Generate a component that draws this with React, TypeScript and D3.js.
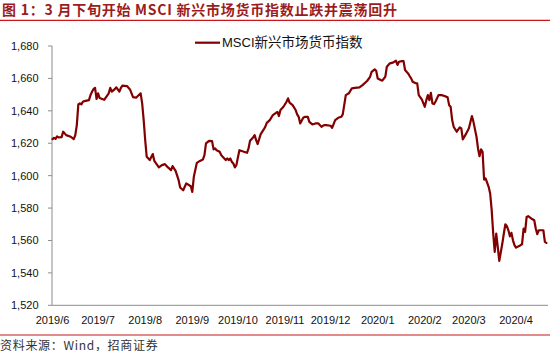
import React from "react";
import * as d3 from "d3";

const TITLE = "图 1：3 月下旬开始 MSCI 新兴市场货币指数止跌并震荡回升";
const SOURCE = "资料来源：Wind，招商证券";
const SERIES_NAME = "MSCI新兴市场货币指数";

const dates: string[] = [
  "2019-06-01","2019-06-02","2019-06-03","2019-06-04","2019-06-05","2019-06-07","2019-06-08","2019-06-09","2019-06-10","2019-06-13",
  "2019-06-15","2019-06-16","2019-06-17","2019-06-18","2019-06-19","2019-06-20","2019-06-21","2019-06-22","2019-06-25","2019-06-26",
  "2019-06-27","2019-06-28","2019-06-29","2019-06-30","2019-07-01","2019-07-02","2019-07-05","2019-07-08","2019-07-09","2019-07-10",
  "2019-07-12","2019-07-13","2019-07-15","2019-07-16","2019-07-17","2019-07-20","2019-07-22","2019-07-24","2019-07-26","2019-07-29",
  "2019-07-30","2019-07-31","2019-08-01","2019-08-02","2019-08-04","2019-08-06","2019-08-07","2019-08-10","2019-08-12","2019-08-14",
  "2019-08-16","2019-08-18","2019-08-19","2019-08-21","2019-08-23","2019-08-24","2019-08-26","2019-08-28","2019-08-31","2019-09-01",
  "2019-09-02","2019-09-04","2019-09-06","2019-09-08","2019-09-09","2019-09-10","2019-09-12","2019-09-14","2019-09-15","2019-09-16",
  "2019-09-17","2019-09-19","2019-09-20","2019-09-21","2019-09-23","2019-09-24","2019-09-25","2019-09-26","2019-09-27","2019-09-28",
  "2019-09-29","2019-09-30","2019-10-01","2019-10-02","2019-10-05","2019-10-07","2019-10-08","2019-10-09","2019-10-11","2019-10-12",
  "2019-10-13","2019-10-14","2019-10-16","2019-10-18","2019-10-19","2019-10-20","2019-10-22","2019-10-24","2019-10-27","2019-10-28",
  "2019-10-29","2019-10-31","2019-11-02","2019-11-03","2019-11-04","2019-11-06","2019-11-08","2019-11-09","2019-11-10","2019-11-11",
  "2019-11-13","2019-11-14","2019-11-16","2019-11-17","2019-11-19","2019-11-21","2019-11-23","2019-11-25","2019-11-26","2019-11-27",
  "2019-11-28","2019-12-01","2019-12-02","2019-12-04","2019-12-06","2019-12-08","2019-12-09","2019-12-11","2019-12-13","2019-12-15",
  "2019-12-17","2019-12-20","2019-12-22","2019-12-25","2019-12-27","2019-12-28","2019-12-30","2019-12-31","2020-01-01","2020-01-03",
  "2020-01-04","2020-01-06","2020-01-07","2020-01-09","2020-01-11","2020-01-13","2020-01-14","2020-01-15","2020-01-17","2020-01-18",
  "2020-01-19","2020-01-20","2020-01-21","2020-01-22","2020-01-23","2020-01-24","2020-01-26","2020-01-27","2020-01-28","2020-01-30",
  "2020-02-01","2020-02-02","2020-02-03","2020-02-04","2020-02-05","2020-02-06","2020-02-07","2020-02-08","2020-02-10","2020-02-12",
  "2020-02-14","2020-02-16","2020-02-17","2020-02-18","2020-02-19","2020-02-20","2020-02-22","2020-02-24","2020-02-25","2020-02-26",
  "2020-02-28","2020-03-01","2020-03-03","2020-03-04","2020-03-06","2020-03-07","2020-03-08","2020-03-09","2020-03-10","2020-03-11",
  "2020-03-12","2020-03-14","2020-03-15","2020-03-16","2020-03-17","2020-03-18","2020-03-19","2020-03-20","2020-03-21","2020-03-23",
  "2020-03-24","2020-03-25","2020-03-26","2020-03-27","2020-03-28","2020-03-29","2020-03-30","2020-03-31","2020-04-01","2020-04-04",
  "2020-04-05","2020-04-06","2020-04-07","2020-04-08","2020-04-09","2020-04-11","2020-04-13","2020-04-14","2020-04-15","2020-04-16",
  "2020-04-19","2020-04-20","2020-04-21"
];

const values: number[] = [
  1622.5,1623.3,1622.7,1624.2,1623.6,1623.8,1627.1,1626.1,1625.0,1624.0,
  1622.5,1625.0,1631.2,1644.0,1644.6,1644.0,1645.6,1646.0,1646.6,1649.7,
  1651.8,1653.4,1654.2,1647.3,1650.8,1647.9,1646.8,1650.8,1654.2,1651.8,
  1653.4,1654.5,1651.8,1654.1,1655.5,1655.3,1653.2,1648.5,1648.1,1650.8,
  1644.6,1634.3,1621.9,1611.6,1609.6,1613.3,1609.1,1605.1,1606.5,1607.1,
  1605.1,1603.4,1605.9,1603.0,1597.2,1592.7,1591.0,1595.2,1593.5,1590.0,
  1599.3,1607.9,1609.1,1610.0,1612.7,1619.9,1621.5,1621.3,1616.2,1616.8,
  1615.7,1614.7,1612.7,1611.6,1609.6,1610.6,1609.6,1610.6,1608.5,1607.5,
  1605.1,1606.5,1611.2,1615.7,1614.7,1614.1,1616.8,1621.5,1623.6,1625.0,
  1621.9,1619.5,1625.6,1628.5,1630.1,1632.6,1634.3,1637.4,1639.4,1636.8,
  1640.5,1642.5,1645.6,1647.7,1645.0,1643.5,1640.5,1637.8,1636.3,1632.2,
  1635.7,1636.3,1636.3,1633.2,1631.6,1632.2,1632.2,1630.1,1630.8,1631.2,
  1631.2,1630.8,1629.5,1634.3,1635.7,1636.3,1637.8,1649.7,1650.8,1653.9,
  1654.2,1654.5,1655.9,1658.4,1661.0,1664.1,1665.6,1664.7,1660.0,1659.0,
  1658.6,1661.0,1667.2,1669.3,1669.7,1670.9,1668.3,1670.3,1670.7,1670.7,
  1665.2,1664.1,1663.1,1661.5,1660.0,1657.9,1657.0,1657.0,1649.7,1647.1,
  1642.5,1646.6,1649.7,1646.6,1651.1,1644.6,1644.2,1645.6,1649.7,1649.7,
  1649.1,1648.3,1643.5,1642.5,1634.3,1630.1,1627.1,1629.8,1629.2,1622.4,
  1625.6,1629.2,1636.8,1633.2,1624.0,1616.8,1612.0,1616.2,1614.7,1597.6,
  1598.3,1593.1,1589.0,1578.7,1564.3,1552.9,1564.3,1556.0,1547.4,1558.1,
  1564.3,1570.0,1568.8,1566.3,1562.6,1564.7,1560.1,1557.1,1555.6,1557.1,
  1557.7,1567.4,1565.3,1574.5,1575.0,1573.6,1572.5,1567.4,1563.9,1566.3,
  1566.3,1559.1,1558.5
];

const yTicks: number[] = [1520, 1540, 1560, 1580, 1600, 1620, 1640, 1660, 1680];
const monthLabels: string[] = ["2019/6","2019/7","2019/8","2019/9","2019/10","2019/11","2019/12","2020/1","2020/2","2020/3","2020/4"];
const monthStarts: string[] = ["2019-06-01","2019-07-01","2019-08-01","2019-09-01","2019-10-01","2019-11-01","2019-12-01","2020-01-01","2020-02-01","2020-03-01","2020-04-01"];

const LATIN = "'Liberation Sans', Arial, 'Noto Sans CJK SC', sans-serif";
const CJK = "'Noto Sans CJK SC', 'Liberation Sans', sans-serif";

export default function App() {
  const parse = d3.utcParse("%Y-%m-%d");
  const data = dates.map((d, i) => ({ date: parse(d) as Date, value: values[i] }));

  const plotLeft = 52;
  const plotRight = 548;
  const plotTop = 46;
  const plotBottom = 305.3;

  const x = d3
    .scaleUtc()
    .domain([parse("2019-06-01") as Date, parse("2020-04-01") as Date])
    .range([52.5, 516]);
  const y = d3.scaleLinear().domain([1520, 1680]).range([plotBottom, plotTop]);

  const line = d3
    .line<{ date: Date; value: number }>()
    .x((d) => x(d.date))
    .y((d) => y(d.value));

  const fmt = d3.format(",");
  const axisColor = "#8c8c8c";

  return (
    <svg
      width={550}
      height={351}
      style={{ position: "absolute", left: 0, top: 0, background: "#fff" }}
    >
      <rect x={0} y={0} width={550} height={351} fill="#fff" />
      {/* title */}
      <text x={2} y={15} fontFamily={CJK} fontWeight="bold" fontSize={14} letterSpacing={0.75} fill="#9B1C20">
        {TITLE}
      </text>
      <line x1={0} x2={550} y1={20.3} y2={20.3} stroke="#C8161D" strokeWidth={1.2} />

      {/* legend */}
      <line x1={195} x2={220} y1={42.7} y2={42.7} stroke="#820000" strokeWidth={2.2} />
      <text x={222} y={47} fontFamily={LATIN} fontSize={13} fill="#111">
        <tspan>MSCI</tspan>
        <tspan fontFamily={CJK} fontSize={13.5}>{SERIES_NAME.slice(4)}</tspan>
      </text>

      {/* y axis */}
      <line x1={plotLeft} x2={plotLeft} y1={plotTop} y2={plotBottom} stroke={axisColor} strokeWidth={1} />
      {yTicks.map((t) => (
        <g key={t}>
          <line x1={plotLeft - 4} x2={plotLeft} y1={y(t)} y2={y(t)} stroke={axisColor} strokeWidth={1} />
          <text
            x={38.5}
            y={y(t) + 4}
            textAnchor="end"
            fontFamily={LATIN}
            fontSize={11}
            fill="#111"
          >
            {fmt(t)}
          </text>
        </g>
      ))}

      {/* x axis */}
      <line x1={plotLeft} x2={plotRight} y1={plotBottom} y2={plotBottom} stroke={axisColor} strokeWidth={1} />
      {monthLabels.map((lab, i) => (
        <text
          key={lab}
          x={x(parse(monthStarts[i]) as Date)}
          y={323.8}
          textAnchor="middle"
          fontFamily={LATIN}
          fontSize={11}
          fill="#111"
        >
          {lab}
        </text>
      ))}

      {/* series */}
      <path
        d={line(data) || ""}
        fill="none"
        stroke="#820000"
        strokeWidth={2.2}
        strokeLinejoin="round"
        strokeLinecap="round"
      />

      {/* footer */}
      <line x1={0} x2={550} y1={335} y2={335} stroke="#C8161D" strokeWidth={1.2} />
      <text x={0} y={349.5} fontFamily={CJK} fontSize={12} letterSpacing={0.7} fill="#333">
        {SOURCE}
      </text>
    </svg>
  );
}
